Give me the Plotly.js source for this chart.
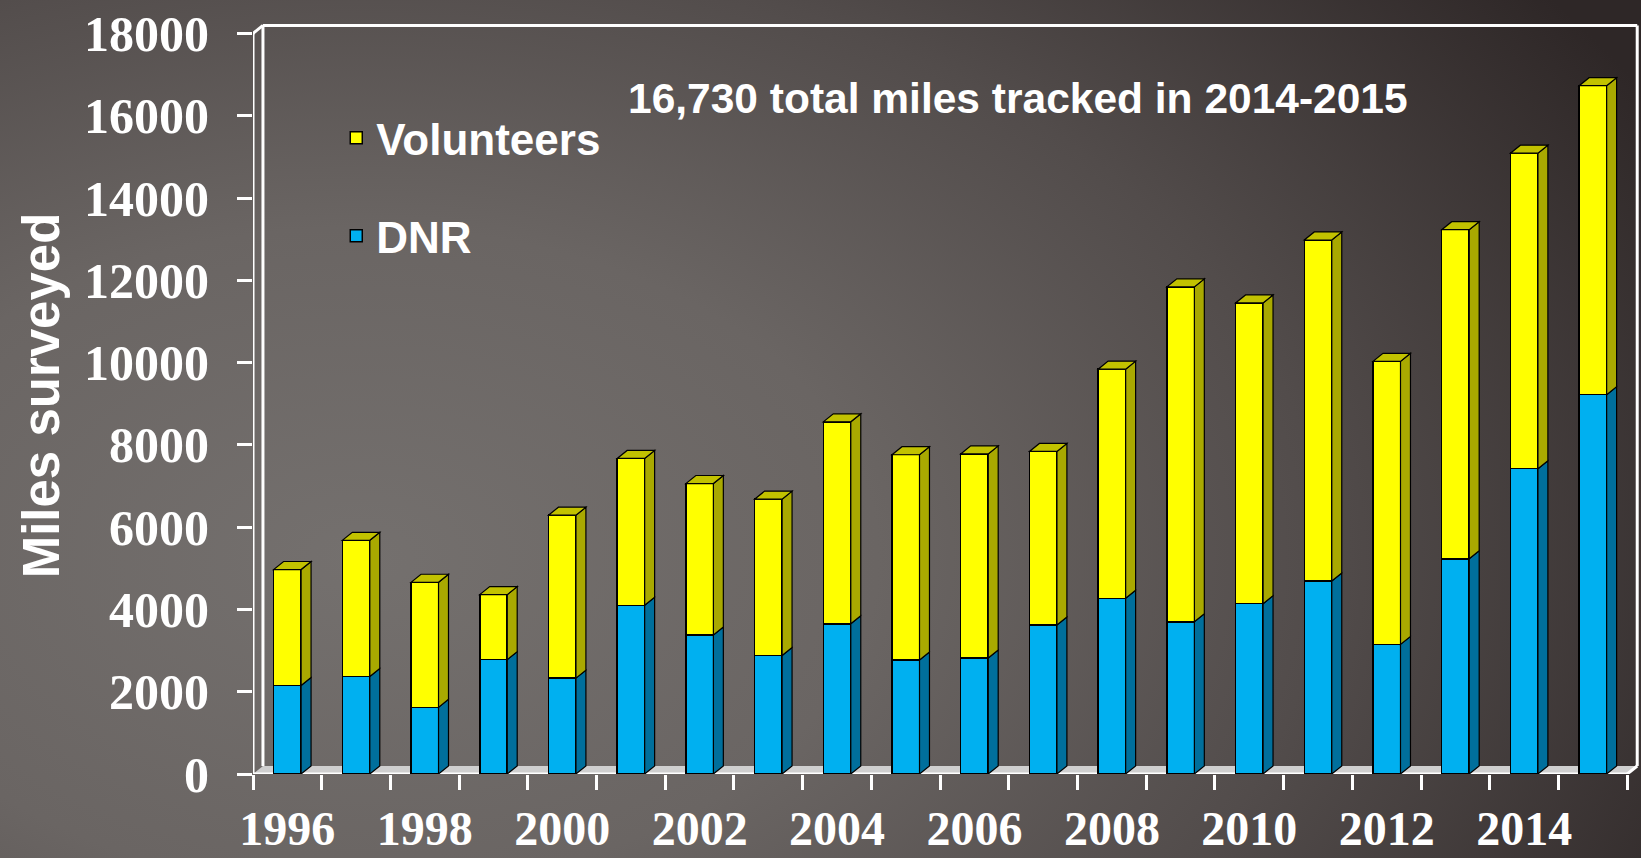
<!DOCTYPE html>
<html>
<head>
<meta charset="utf-8">
<script src="https://cdn.plot.ly/plotly-3.0.1.min.js"></script>
<style>
  html, body { margin: 0; padding: 0; }
  body {
    width: 1641px; height: 858px; overflow: hidden;
    background: radial-gradient(ellipse 90% 110% at 22% 65%, #74706e 0%, #6a6563 35%, #524c4b 65%, #2e2727 100%);
  }
  #chart { width: 1641px; height: 858px; }
</style>
</head>
<body>
<div id="chart"></div>
<script>
// ---- data ----
const years = [1996, 1997, 1998, 1999, 2000, 2001, 2002, 2003, 2004, 2005,
               2006, 2007, 2008, 2009, 2010, 2011, 2012, 2013, 2014, 2015];
const dnr = [2150, 2370, 1620, 2780, 2330, 4100, 3380, 2880, 3650, 2770,
             2820, 3620, 4270, 3700, 4140, 4690, 3150, 5230, 7420, 9220];
const volunteers = [2820, 3310, 3040, 1580, 3960, 3570, 3680, 3800, 4910, 4990,
                    4960, 4220, 5570, 8140, 7310, 8290, 6880, 8000, 7670, 7510];
const xTickVals = [1996, 1998, 2000, 2002, 2004, 2006, 2008, 2010, 2012, 2014];
const xTickText = ['1996', '1998', '2000', '2002', '2004', '2006', '2008', '2010', '2012', '2014'];
const yTickVals = [0, 2000, 4000, 6000, 8000, 10000, 12000, 14000, 16000, 18000];
const yTickText = ['0', '2000', '4000', '6000', '8000', '10000', '12000', '14000', '16000', '18000'];
const seriesNames = ['DNR', 'Volunteers'];
const noteText = '16,730 total miles tracked in 2014-2015';
const yTitle = 'Miles surveyed';

// ---- styling ----
const BAR_W = 0.4;      // front face width (category units)
const DX = 0.145;       // 3D depth, x (category units)
const DY = 195;         // 3D depth, y (data units)
const X0 = 1995.5, X1 = 2015.5, YTOP = 18000;
const boundaries = [];
for (let i = 0; i <= years.length; i++) boundaries.push(years[0] - 0.5 + i);

const sansBold = {family: '"Liberation Sans", Arial, sans-serif', weight: 'bold', color: '#ffffff'};
const serifBold = {family: '"Liberation Serif", "Times New Roman", serif', weight: 'bold', color: '#ffffff'};

const traces = [
  {
    type: 'bar', name: seriesNames[0], x: years, y: dnr, width: BAR_W,
    marker: {color: '#00b0f0', line: {color: '#000000', width: 1.5}},
    legendgroup: 'dnr', legendrank: 2, hoverinfo: 'x+y+name'
  },
  {
    type: 'bar', name: seriesNames[1], x: years, y: volunteers, width: BAR_W,
    marker: {color: '#ffff00', line: {color: '#000000', width: 1.5}},
    legendgroup: 'vol', legendrank: 1, hoverinfo: 'x+y+name'
  },
  { // carrier for the boundary tick axis
    type: 'scatter', x: [X0], y: [0], xaxis: 'x2', mode: 'markers',
    marker: {opacity: 0}, showlegend: false, hoverinfo: 'skip'
  }
];

// 3D decorations derived from the data
const shapes = [];
// floor
shapes.push({type: 'path', layer: 'below', xref: 'x', yref: 'y',
  path: `M${X0},0 L${X1},0 L${X1 + DX},${DY} L${X0 + DX},${DY} Z`,
  fillcolor: '#cfcfcf', line: {width: 0}});
// walls / frame lines
const wl = {color: '#ffffff', width: 3};
const seg = (a, b, c, d) => shapes.push({type: 'line', layer: 'below', xref: 'x', yref: 'y',
  x0: a, y0: b, x1: c, y1: d, line: wl});
seg(X0, 0, X0, YTOP);                       // y axis line
seg(X0, YTOP, X0 + DX, YTOP + DY);          // side wall top edge
seg(X0 + DX, DY, X0 + DX, YTOP + DY);       // back wall left
seg(X0 + DX, YTOP + DY, X1 + DX, YTOP + DY);// back wall top
seg(X1 + DX, YTOP + DY, X1 + DX, DY);       // back wall right
seg(X0, 0, X1, 0);                          // x axis front line
seg(X1, 0, X1 + DX, DY);                    // floor right edge

for (let i = 0; i < years.length; i++) {
  const c = years[i], xa = c - BAR_W / 2, xb = c + BAR_W / 2;
  const d = dnr[i], t = dnr[i] + volunteers[i];
  shapes.push({type: 'path', layer: 'above', xref: 'x', yref: 'y',
    path: `M${xb},0 L${xb + DX},${DY} L${xb + DX},${d + DY} L${xb},${d} Z`,
    fillcolor: '#006f9c', line: {color: '#000000', width: 1.2}});
  shapes.push({type: 'path', layer: 'above', xref: 'x', yref: 'y',
    path: `M${xb},${d} L${xb + DX},${d + DY} L${xb + DX},${t + DY} L${xb},${t} Z`,
    fillcolor: '#a9a900', line: {color: '#000000', width: 1.2}});
  shapes.push({type: 'path', layer: 'above', xref: 'x', yref: 'y',
    path: `M${xa},${t} L${xb},${t} L${xb + DX},${t + DY} L${xa + DX},${t + DY} Z`,
    fillcolor: '#c2c200', line: {color: '#000000', width: 1.2}});
}

const layout = {
  width: 1641, height: 858,
  margin: {l: 253, r: 0, t: 17, b: 83.5},
  paper_bgcolor: 'rgba(0,0,0,0)', plot_bgcolor: 'rgba(0,0,0,0)',
  barmode: 'stack',
  showlegend: true,
  legend: {
    x: 0.06, y: 0.887, xanchor: 'left', yanchor: 'top',
    bgcolor: 'rgba(0,0,0,0)', traceorder: 'grouped', tracegroupgap: 38,
    font: Object.assign({size: 44}, sansBold)
  },
  xaxis: {
    range: [X0, X1 + 0.2], tickvals: xTickVals, ticktext: xTickText,
    ticks: '', showgrid: false, zeroline: false, showline: false,
    tickfont: Object.assign({size: 48}, serifBold), ticklabelstandoff: 22
  },
  xaxis2: {
    overlaying: 'x', anchor: 'y', side: 'bottom', matches: 'x',
    range: [X0, X1 + 0.2], tickvals: boundaries, showticklabels: false,
    ticks: 'outside', ticklen: 15, tickwidth: 3, tickcolor: '#ffffff',
    showgrid: false, zeroline: false, showline: false
  },
  yaxis: {
    range: [0, 18400], tickvals: yTickVals, ticktext: yTickText,
    ticks: 'outside', ticklen: 15, tickwidth: 3, tickcolor: '#ffffff',
    showgrid: false, zeroline: false, showline: false,
    tickfont: Object.assign({size: 50}, serifBold), ticklabelstandoff: 18,
    title: {text: yTitle, font: Object.assign({size: 51}, sansBold), standoff: 8}
  },
  shapes: shapes,
  annotations: [{
    text: noteText, xref: 'paper', yref: 'paper', x: 0.551, y: 0.892,
    xanchor: 'center', yanchor: 'middle', showarrow: false,
    font: Object.assign({size: 42.5}, sansBold)
  }]
};

Plotly.newPlot('chart', traces, layout, {displayModeBar: false, staticPlot: true});
</script>
</body>
</html>
